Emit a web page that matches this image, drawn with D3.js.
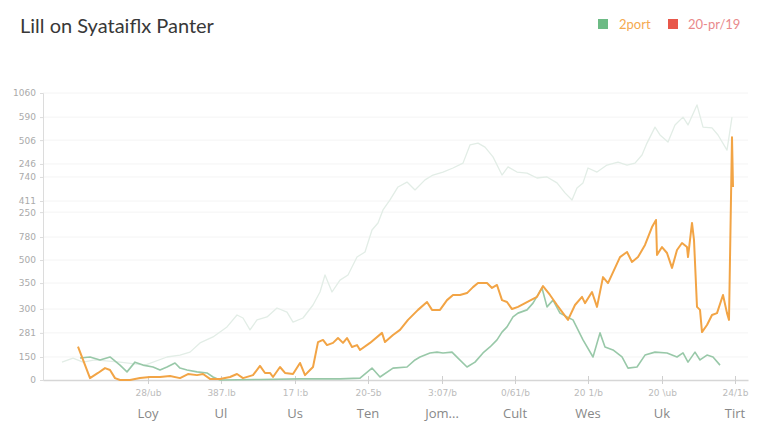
<!DOCTYPE html>
<html><head><meta charset="utf-8">
<script src="https://cdn.jsdelivr.net/npm/d3@7"></script>
<style>html,body{margin:0;padding:0;background:#fff;}svg{display:block;}</style>
</head><body>
<svg id="c" width="768" height="432"></svg>
<script>
const title = "Lill on Syataiflx Panter";
const legendNames = ["2port", "20-pr/19"];
const yTickValues = [1060, 971, 886, 798, 750, 661, 620, 528, 443, 358, 262, 174, 85, 0];
const yTickLabels = ["1060","590","506","246","740","411","250","780","500","350","300","281","150","0"];
const xTickDays = [86, 159, 233, 306, 380, 453, 526, 600, 673];
const xSubLabels = ["28/ub","387.lb","17 l:b","20-5b","3:07/b","0/61/b","20 1/b","20 \\ub","24/1b"];
const xCategories = ["Loy","Ul","Us","Ten","Jom...","Cult","Wes","Uk","Tirt"];

const orange = [[16,123],[28,7],[36,26],[43,44],[48,37],[53,7],[58,0],[68,0],[78,7],[88,11],[98,11],[108,15],[118,7],[126,22],[135,18],[141,22],[148,4],[158,4],[168,11],[175,22],[181,7],[191,18],[198,52],[203,26],[208,26],[211,11],[218,48],[223,26],[231,22],[238,63],[243,18],[248,37],[251,48],[256,140],[261,148],[265,129],[271,137],[276,155],[281,137],[285,155],[290,122],[295,129],[298,111],[308,137],[320,174],[323,140],[331,166],[338,185],[346,222],[356,259],[365,288],[370,259],[378,259],[385,295],[391,314],[398,314],[405,321],[411,343],[416,358],[425,358],[430,340],[435,351],[440,295],[445,288],[450,262],[456,270],[465,288],[475,307],[481,347],[488,314],[495,277],[498,262],[506,222],[513,277],[520,307],[523,284],[530,325],[535,270],[541,380],[546,358],[558,454],[565,473],[570,436],[576,454],[583,499],[590,565],[594,591],[595,462],[600,491],[605,469],[610,414],[615,480],[620,506],[625,491],[626,454],[630,580],[632,517],[635,270],[638,259],[640,177],[645,203],[650,240],[655,247],[661,314],[665,247],[667,222],[670,897],[671,713]];

const green = [[18,81],[28,85],[38,74],[48,85],[58,55],[65,30],[73,66],[81,55],[91,48],[98,37],[105,48],[113,63],[118,44],[125,37],[135,30],[145,26],[151,11],[158,0],[198,2],[238,4],[278,4],[298,7],[310,44],[318,11],[331,44],[345,48],[353,74],[358,85],[368,100],[375,103],[381,100],[390,103],[396,81],[405,48],[413,66],[421,100],[428,122],[435,148],[440,177],[445,196],[451,233],[456,247],[465,259],[471,284],[480,340],[485,270],[491,295],[498,247],[505,233],[511,222],[521,148],[531,85],[538,174],[543,122],[551,111],[560,85],[566,44],[575,48],[583,92],[593,103],[605,100],[615,85],[621,100],[626,66],[633,103],[638,74],[645,92],[651,85],[658,55]];

const pale = [[0,66],[11,81],[21,66],[33,74],[58,66],[83,55],[105,85],[118,92],[128,103],[138,137],[151,159],[165,196],[175,240],[181,229],[188,185],[195,222],[205,233],[215,266],[225,251],[231,214],[241,229],[251,277],[258,325],[263,388],[270,325],[278,369],[286,388],[295,454],[303,473],[310,554],[316,580],[321,628],[328,665],[336,713],[345,731],[353,702],[363,739],[371,757],[381,768],[391,783],[401,801],[408,868],[416,875],[423,860],[431,824],[440,757],[446,787],[455,768],[465,764],[475,746],[485,750],[495,728],[503,691],[510,665],[515,709],[521,728],[526,783],[535,768],[545,794],[556,805],[565,794],[573,801],[580,831],[585,875],[593,934],[598,905],[606,879],[613,942],[621,971],[626,942],[635,1016],[641,934],[650,931],[656,905],[665,849],[670,971]];

const svg = d3.select("#c");
const x = d3.scaleLinear().domain([-19, 686]).range([43, 748]);
const y = d3.scaleLinear().domain([0, 1060]).range([380, 93]);

// grid
svg.append("g").selectAll("line").data(yTickValues.filter(v => v > 0)).join("line")
  .attr("x1", 43).attr("x2", 748).attr("y1", d => y(d)).attr("y2", d => y(d))
  .attr("stroke", "#f4f4f4").attr("stroke-width", 1);

// title
svg.append("text").attr("x", 20).attr("y", 33).text(title)
  .attr("font-family", "Lato, 'Open Sans', sans-serif").attr("font-size", 20)
  .attr("fill", "#383838");

// legend
const lg = svg.append("g");
lg.append("rect").attr("x", 598).attr("y", 19).attr("width", 10).attr("height", 10).attr("fill", "#6dbb85");
lg.append("text").attr("x", 619).attr("y", 29).text(legendNames[0]).attr("font-family", "Lato, sans-serif").attr("font-size", 13).attr("fill", "#f5a94e");
lg.append("rect").attr("x", 668).attr("y", 19).attr("width", 10).attr("height", 10).attr("fill", "#e8574a");
lg.append("text").attr("x", 688).attr("y", 29).text(legendNames[1]).attr("font-family", "Lato, sans-serif").attr("font-size", 13).attr("fill", "#e9898b");

// y axis
const yAxis = svg.append("g").attr("transform", "translate(43,0)")
  .call(d3.axisLeft(y).tickValues(yTickValues).tickFormat((d, i) => yTickLabels[i]).tickSize(3).tickPadding(4));
yAxis.select(".domain").attr("stroke", "#dcdcdc");
yAxis.selectAll(".tick line").attr("stroke", "#dcdcdc");
yAxis.selectAll("text").attr("fill", "#aaa").attr("font-size", 9).attr("font-family", "'DejaVu Sans', sans-serif");

// x axis
const xAxis = svg.append("g").attr("transform", "translate(0,380)")
  .call(d3.axisBottom(x).tickValues(xTickDays).tickFormat((d, i) => xSubLabels[i]).tickSize(4).tickSizeOuter(0).tickPadding(6));
xAxis.select(".domain").attr("stroke", "#d6d6d6").attr("stroke-width", 1.5);
xAxis.selectAll(".tick line").attr("stroke", "#cfcfcf").attr("transform", "translate(0,-4)").attr("y2", 8);
xAxis.selectAll("text").attr("fill", "#bbb").attr("font-size", 9).attr("font-family", "'DejaVu Sans', sans-serif");

svg.append("g").selectAll("text").data(xCategories).join("text")
  .attr("x", (d, i) => x(xTickDays[i])).attr("y", 418).attr("text-anchor", "middle")
  .text(d => d).attr("font-family", "'Open Sans', sans-serif").attr("font-size", 13).attr("fill", "#888");

// lines
const line = d3.line().x(d => x(d[0])).y(d => y(d[1])).curve(d3.curveLinear);
svg.append("path").datum(pale).attr("d", line).attr("fill", "none").attr("stroke", "#e2ede6").attr("stroke-width", 1.3).attr("stroke-linejoin", "round");
svg.append("path").datum(green).attr("d", line).attr("fill", "none").attr("stroke", "#98c8a8").attr("stroke-width", 1.6).attr("stroke-linejoin", "round");
svg.append("path").datum(orange).attr("d", line).attr("fill", "none").attr("stroke", "#f2a445").attr("stroke-width", 2).attr("stroke-linejoin", "round");
</script>
</body></html>
